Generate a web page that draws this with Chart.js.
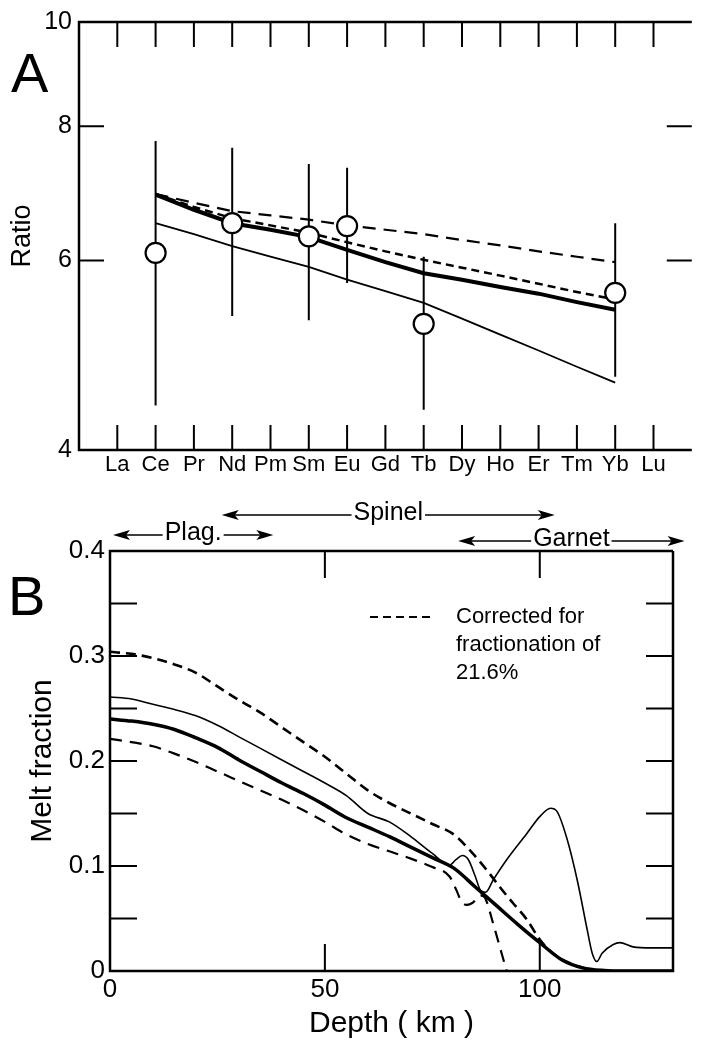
<!DOCTYPE html>
<html>
<head>
<meta charset="utf-8">
<script src="https://cdn.jsdelivr.net/npm/chart.js@4.4.1/dist/chart.umd.min.js"></script>
<style>
  body { margin: 0; background: #fff; }
  #page { position: relative; width: 704px; height: 1046px; overflow: hidden; font-family: "Liberation Sans", Arial, sans-serif; }
  canvas { position: absolute; left: 0; }
  .tag { position: absolute; font-size: 56px; line-height: 56px; color: #000; }
</style>
</head>
<body>
<div id="page">
  <canvas id="chartA" width="704" height="490" style="top:0"></canvas>
  <canvas id="chartB" width="704" height="556" style="top:490px"></canvas>
  <div class="tag" style="left:11px;top:45px">A</div>
  <div class="tag" style="left:8px;top:568px">B</div>
</div>
<script>
const FONT = '"Liberation Sans", Arial, sans-serif';
Chart.defaults.font.family = FONT;
Chart.defaults.color = '#000';

// ---- Panel A: REE ratio ----
const ree = ['La', 'Ce', 'Pr', 'Nd', 'Pm', 'Sm', 'Eu', 'Gd', 'Tb', 'Dy', 'Ho', 'Er', 'Tm', 'Yb', 'Lu'];
const ratioTicks = [4, 6, 8, 10];
const ratioMarks = [6, 8];

// model curves, Ce through Yb
const modelStart = 'Ce';
const modelThick = [6.91, 6.69, 6.50, 6.41, 6.31, 6.14, 5.98, 5.84, 5.76, 5.67, 5.59, 5.49, 5.40];
const modelLongDash = [6.92, 6.79, 6.67, 6.61, 6.55, 6.47, 6.41, 6.35, 6.27, 6.20, 6.12, 6.05, 5.98];
const modelShortDash = [6.92, 6.73, 6.57, 6.47, 6.37, 6.24, 6.12, 6.01, 5.91, 5.81, 5.71, 5.61, 5.52];
const modelThin = [6.50, 6.35, 6.19, 6.05, 5.92, 5.76, 5.62, 5.48, 5.30, 5.12, 4.95, 4.78, 4.62];

// measured ratios with error bars
const sampleRee = ['Ce', 'Nd', 'Sm', 'Eu', 'Tb', 'Yb'];
const sampleRatio = [6.10, 6.50, 6.32, 6.46, 5.24, 5.60];
const sampleLow = [4.40, 5.33, 5.28, 5.72, 4.36, 4.68];
const sampleHigh = [7.75, 7.64, 7.38, 7.32, 6.05, 6.50];

// ---- Panel B: melt fraction vs depth ----
const depthTicks = [0, 50, 100];
const depthMarks = [50, 100];
const meltTicks = [0, 0.1, 0.2, 0.3, 0.4];
const meltMarks = [0.05, 0.1, 0.15, 0.2, 0.25, 0.3, 0.35];

const corrDepth = [0, 5, 10, 15, 20, 25, 30, 35, 40, 45, 50, 55, 60, 65, 70, 75, 80, 84.4, 87.7, 90.7, 93.7, 97, 100, 103, 107.7, 112];
const corrMelt = [0.304, 0.302, 0.298, 0.292, 0.284, 0.271, 0.258, 0.246, 0.232, 0.218, 0.204, 0.188, 0.172, 0.160, 0.150, 0.140, 0.130, 0.112, 0.096, 0.080, 0.065, 0.049, 0.030, 0.017, 0.006, 0.001];

const thinDepth = [0, 5, 10, 15, 20, 25, 30, 35, 40, 45, 50, 55, 60, 65, 70, 75, 79, 80.5, 82, 83.4, 85, 86.2, 87.4, 89.2, 92.3, 97, 100, 102.5, 104, 106.4, 108.8, 111, 112.2, 113.3, 114.5, 117, 118.6, 121.7, 126, 131];
const thinMelt = [0.261, 0.259, 0.254, 0.249, 0.243, 0.234, 0.223, 0.212, 0.201, 0.190, 0.179, 0.167, 0.150, 0.142, 0.128, 0.112, 0.101, 0.106, 0.110, 0.106, 0.090, 0.077, 0.075, 0.087, 0.106, 0.131, 0.147, 0.155, 0.152, 0.125, 0.085, 0.040, 0.017, 0.009, 0.017, 0.025, 0.027, 0.023, 0.022, 0.022];

const thickDepth = [0, 5, 10, 15, 20, 25, 30, 35, 40, 45, 50, 55, 60, 65, 70, 75, 80, 85, 90, 95, 100, 105, 110, 115, 120, 131];
const thickMelt = [0.240, 0.238, 0.235, 0.230, 0.222, 0.213, 0.201, 0.190, 0.179, 0.169, 0.158, 0.146, 0.137, 0.128, 0.118, 0.108, 0.098, 0.080, 0.062, 0.044, 0.027, 0.011, 0.003, 0.0005, 0, 0];

const lowDepth = [0, 5, 10, 15, 20, 25, 30, 35, 40, 45, 50, 55, 60, 65, 70, 75, 79, 80.6, 81.8, 83, 84.4, 86.2, 87.2, 89.1, 90.7, 92.3];
const lowMelt = [0.221, 0.218, 0.214, 0.207, 0.199, 0.190, 0.181, 0.172, 0.163, 0.153, 0.142, 0.130, 0.121, 0.114, 0.107, 0.099, 0.090, 0.077, 0.066, 0.063, 0.065, 0.072, 0.070, 0.046, 0.023, 0];

// mineral stability ranges (km)
const phaseNames = ['Plag.', 'Spinel', 'Garnet'];
const phaseFrom = [0.7, 26, 81];
const phaseTo = [38, 103.5, 133.7];

const legendLines = ['Corrected for', 'fractionation of', '21.6%'];

// helpers
const reePts = vals => vals.map((v, i) => ({ x: ree.indexOf(modelStart) + i, y: v }));
const xyPts = (xs, ys) => xs.map((v, i) => ({ x: v, y: ys[i] }));
const lineDs = (data, width, dash) => ({
  data, showLine: true, pointRadius: 0, borderColor: '#000', borderWidth: width,
  borderDash: dash || [], backgroundColor: 'transparent'
});
const plainGrid = { display: false, drawTicks: false };

// box around the plot with inward tick marks
function frame(o) {
  return {
    id: 'frame',
    afterDatasetsDraw(chart) {
      const { ctx, chartArea: a, scales: { x, y } } = chart;
      ctx.save();
      ctx.strokeStyle = '#000';
      ctx.lineWidth = 2.5;
      ctx.beginPath();
      ctx.moveTo(a.right, a.top);
      ctx.lineTo(a.left, a.top);
      ctx.lineTo(a.left, a.bottom);
      ctx.lineTo(a.right, a.bottom);
      if (o.right) ctx.lineTo(a.right, a.top);
      ctx.stroke();
      ctx.lineWidth = 2;
      ctx.beginPath();
      o.xMarks.forEach(v => {
        const px = x.getPixelForValue(v);
        ctx.moveTo(px, a.top); ctx.lineTo(px, a.top + o.len);
        ctx.moveTo(px, a.bottom); ctx.lineTo(px, a.bottom - o.len);
      });
      o.yMarks.forEach(v => {
        const py = y.getPixelForValue(v);
        ctx.moveTo(a.left, py); ctx.lineTo(a.left + o.len, py);
        ctx.moveTo(a.right, py); ctx.lineTo(a.right - o.len, py);
      });
      ctx.stroke();
      ctx.restore();
    }
  };
}

const errorBars = {
  id: 'errorBars',
  beforeDatasetsDraw(chart) {
    const { ctx, scales: { x, y } } = chart;
    ctx.save();
    ctx.strokeStyle = '#000';
    ctx.lineWidth = 2;
    ctx.beginPath();
    sampleRee.forEach((r, i) => {
      const px = x.getPixelForValue(ree.indexOf(r));
      ctx.moveTo(px, y.getPixelForValue(sampleLow[i]));
      ctx.lineTo(px, y.getPixelForValue(sampleHigh[i]));
    });
    ctx.stroke();
    ctx.restore();
  }
};

// arrows for mineral fields + dashed-line legend
const phaseNotes = {
  id: 'phaseNotes',
  afterDraw(chart) {
    const { ctx, chartArea: a, scales: { x } } = chart;
    const rise = [16, 36, 10];
    ctx.save();
    ctx.fillStyle = '#000';
    ctx.strokeStyle = '#000';
    ctx.font = '25px ' + FONT;
    ctx.textAlign = 'center';
    ctx.textBaseline = 'middle';
    phaseNames.forEach((name, i) => {
      const x1 = x.getPixelForValue(phaseFrom[i]);
      const x2 = x.getPixelForValue(phaseTo[i]);
      const yy = a.top - rise[i];
      const cx = (x1 + x2) / 2;
      const w = ctx.measureText(name).width;
      ctx.lineWidth = 1.6;
      ctx.beginPath();
      ctx.moveTo(x1 + 10, yy); ctx.lineTo(cx - w / 2 - 2, yy);
      ctx.moveTo(cx + w / 2 + 2, yy); ctx.lineTo(x2 - 10, yy);
      ctx.stroke();
      [[x1, 1], [x2, -1]].forEach(([tip, d]) => {
        ctx.beginPath();
        ctx.moveTo(tip, yy);
        ctx.lineTo(tip + d * 17, yy - 5);
        ctx.lineTo(tip + d * 13, yy);
        ctx.lineTo(tip + d * 17, yy + 5);
        ctx.closePath();
        ctx.fill();
      });
      ctx.fillText(name, cx, yy - 2);
    });
    // legend
    const lx = a.left + 260, ly = a.top + 66;
    ctx.lineWidth = 2.2;
    ctx.setLineDash([8, 5]);
    ctx.beginPath();
    ctx.moveTo(lx, ly); ctx.lineTo(lx + 64, ly);
    ctx.stroke();
    ctx.setLineDash([]);
    ctx.font = '22px ' + FONT;
    ctx.textAlign = 'left';
    legendLines.forEach((t, i) => ctx.fillText(t, lx + 86, ly + i * 28));
    ctx.restore();
  }
};

new Chart(document.getElementById('chartA'), {
  type: 'scatter',
  data: {
    datasets: [
      {
        data: sampleRee.map((r, i) => ({ x: ree.indexOf(r), y: sampleRatio[i] })),
        pointRadius: 10, pointBackgroundColor: '#fff', pointBorderColor: '#000', pointBorderWidth: 2.2
      },
      lineDs(reePts(modelThick), 4),
      lineDs(reePts(modelShortDash), 2.5, [8, 5]),
      lineDs(reePts(modelLongDash), 2.2, [13, 8]),
      lineDs(reePts(modelThin), 1.8)
    ]
  },
  options: {
    responsive: false,
    animation: false,
    layout: { padding: { top: 22, right: 0, bottom: 0, left: 0 } },
    plugins: { legend: { display: false }, tooltip: { enabled: false } },
    scales: {
      x: {
        type: 'linear', min: -1, max: 15,
        grid: plainGrid, border: { display: false },
        afterBuildTicks: s => { s.ticks = ree.map((_, i) => ({ value: i })); },
        afterFit: s => { s.height = 40; },
        ticks: { autoSkip: false, maxRotation: 0, padding: 2, font: { size: 22 }, callback: v => ree[v] }
      },
      y: {
        type: 'logarithmic', min: 4, max: 10,
        grid: plainGrid, border: { display: false },
        afterBuildTicks: s => { s.ticks = ratioTicks.map(v => ({ value: v })); },
        afterFit: s => { s.width = 79; },
        ticks: { padding: 7, font: { size: 25 }, callback: v => String(v) },
        title: { display: true, text: 'Ratio', font: { size: 27 }, padding: { top: 6, bottom: 0 } }
      }
    }
  },
  plugins: [errorBars, frame({ xMarks: ree.map((_, i) => i), yMarks: ratioMarks, len: 25, right: false })]
});

new Chart(document.getElementById('chartB'), {
  type: 'scatter',
  data: {
    datasets: [
      lineDs(xyPts(thickDepth, thickMelt), 3.5),
      lineDs(xyPts(thinDepth, thinMelt), 1.6),
      lineDs(xyPts(corrDepth, corrMelt), 2.6, [10, 6]),
      lineDs(xyPts(lowDepth, lowMelt), 2.2, [12, 8])
    ].map(d => Object.assign(d, { cubicInterpolationMode: 'monotone' }))
  },
  options: {
    responsive: false,
    animation: false,
    layout: { padding: { top: 61, right: 31, bottom: 0, left: 0 } },
    plugins: { legend: { display: false }, tooltip: { enabled: false } },
    scales: {
      x: {
        type: 'linear', min: 0, max: 131,
        grid: plainGrid, border: { display: false },
        afterBuildTicks: s => { s.ticks = depthTicks.map(v => ({ value: v })); },
        afterFit: s => { s.height = 75; },
        ticks: { autoSkip: false, maxRotation: 0, padding: 3, font: { size: 26 }, callback: v => String(v) },
        title: { display: true, text: 'Depth ( km )', font: { size: 30 }, padding: { top: 0, bottom: 4 } }
      },
      y: {
        type: 'linear', min: 0, max: 0.4,
        grid: plainGrid, border: { display: false },
        afterBuildTicks: s => { s.ticks = meltTicks.map(v => ({ value: v })); },
        afterFit: s => { s.width = 110; },
        ticks: { padding: 5, font: { size: 26 }, callback: v => (v === 0 ? '0' : v.toFixed(1)) },
        title: { display: true, text: 'Melt fraction', font: { size: 30 }, padding: { top: 25, bottom: 0 } }
      }
    }
  },
  plugins: [frame({ xMarks: depthMarks, yMarks: meltMarks, len: 27, right: true }), phaseNotes]
});
</script>
</body>
</html>
